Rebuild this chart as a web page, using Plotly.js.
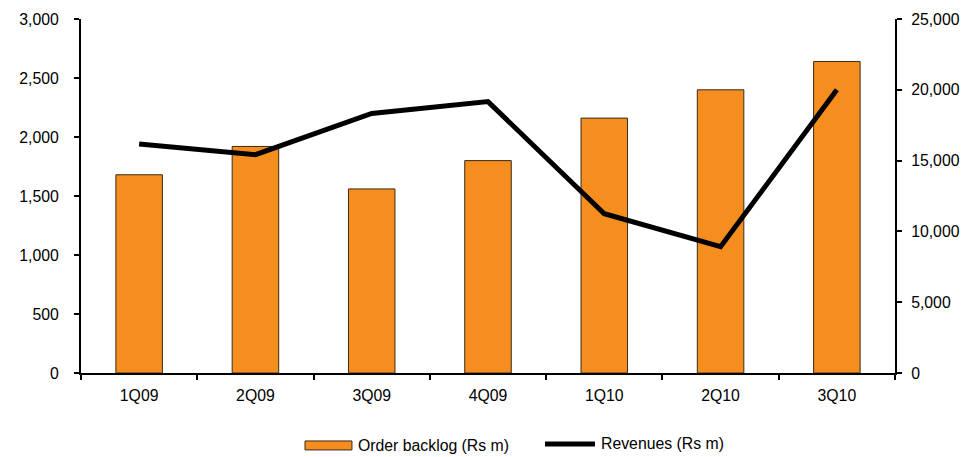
<!DOCTYPE html>
<html>
<head>
<meta charset="utf-8">
<script src="https://cdn.plot.ly/plotly-3.0.1.min.js"></script>
<style>
  html, body { margin: 0; padding: 0; background: #fff; }
  #chart { width: 966px; height: 457px; }
</style>
</head>
<body>
<div id="chart"></div>
<script>
// Quarterly order backlog and revenues (Rs m)
const quarters = ['1Q09', '2Q09', '3Q09', '4Q09', '1Q10', '2Q10', '3Q10'];
const orderBacklog = [14000, 16000, 13000, 15000, 18000, 20000, 22000];
const revenues = [1940, 1850, 2200, 2300, 1350, 1070, 2400];

const backlogName = 'Order backlog (Rs m)';
const revenueName = 'Revenues (Rs m)';

const orange = '#F58D1F';
const font = { family: 'Liberation Sans, Arial, sans-serif', size: 15.8, color: '#000' };

// Bars sit on the right-hand scale (drawn first); the revenue line uses the
// left-hand scale, which overlays it so the line is painted on top.
const traces = [
  {
    type: 'bar',
    x: quarters,
    y: orderBacklog,
    name: backlogName,
    yaxis: 'y',
    width: 0.4,
    marker: { color: orange, line: { color: '#3a2a1a', width: 1 } },
    hoverinfo: 'x+y'
  },
  {
    type: 'scatter',
    mode: 'lines',
    x: quarters,
    y: revenues,
    name: revenueName,
    yaxis: 'y2',
    line: { color: '#000', width: 5 },
    hoverinfo: 'x+y'
  }
];

const layout = {
  width: 966,
  height: 457,
  margin: { l: 81, r: 71, t: 19, b: 84 },
  paper_bgcolor: '#fff',
  plot_bgcolor: '#fff',
  font: font,
  showlegend: false,
  bargap: 0.6,
  xaxis: {
    type: 'category',
    showgrid: false,
    zeroline: false,
    showline: true,
    linecolor: '#000',
    linewidth: 2,
    ticks: 'outside',
    tickson: 'boundaries',
    ticklen: 5,
    tickwidth: 2,
    tickcolor: '#000',
    ticklabelstandoff: 7,
    tickfont: font
  },
  yaxis: {
    side: 'right',
    range: [0, 25000],
    dtick: 5000,
    tickformat: ',d',
    showgrid: false,
    zeroline: false,
    showline: true,
    linecolor: '#000',
    linewidth: 2,
    ticks: 'outside',
    ticklen: 5,
    tickwidth: 2,
    tickcolor: '#000',
    ticklabelstandoff: 6,
    tickfont: font
  },
  yaxis2: {
    side: 'left',
    overlaying: 'y',
    range: [0, 3000],
    dtick: 500,
    tickformat: ',d',
    showgrid: false,
    zeroline: false,
    showline: true,
    linecolor: '#000',
    linewidth: 2,
    ticks: 'outside',
    ticklen: 5,
    tickwidth: 2,
    tickcolor: '#000',
    ticklabelstandoff: 12,
    tickfont: font
  },
  // Legend below the plot: wide bar swatch and line swatch with labels
  shapes: [
    {
      type: 'rect', xref: 'paper', yref: 'paper',
      x0: 0.2752, x1: 0.3329, y0: -0.2173, y1: -0.192,
      fillcolor: orange, line: { color: '#3a2a1a', width: 1 }
    },
    {
      type: 'line', xref: 'paper', yref: 'paper',
      x0: 0.5700, x1: 0.6314, y0: -0.2004, y1: -0.2004,
      line: { color: '#000', width: 5 }
    }
  ],
  annotations: [
    {
      xref: 'paper', yref: 'paper', x: 0.338, y: -0.2046,
      xanchor: 'left', yanchor: 'middle', showarrow: false,
      text: backlogName, font: font
    },
    {
      xref: 'paper', yref: 'paper', x: 0.6366, y: -0.2004,
      xanchor: 'left', yanchor: 'middle', showarrow: false,
      text: revenueName, font: font
    }
  ]
};

Plotly.newPlot('chart', traces, layout, { displayModeBar: false, staticPlot: true });
</script>
</body>
</html>
